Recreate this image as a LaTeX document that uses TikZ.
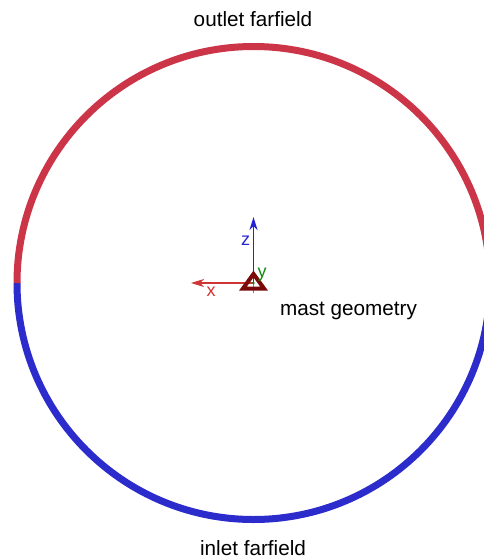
\documentclass[tikz,border=0pt]{standalone}
\usepackage{fontspec}
\setmainfont{Liberation Sans}
\usetikzlibrary{arrows.meta}
\definecolor{outletred}{HTML}{CC3448}
\definecolor{inletblue}{HTML}{2C2CCC}
\definecolor{mastred}{HTML}{7A0808}
\definecolor{axisx}{HTML}{D03434}
\definecolor{axisz}{HTML}{2424D4}
\definecolor{axisy}{HTML}{108A10}
\tikzset{
  farfield/.style={line width=7pt},
  axis/.style={line width=1.3pt,-{Stealth[length=13pt,width=8pt,inset=4pt]}},
  lbl/.style={font=\fontsize{20.7}{24}\selectfont,anchor=base},
  axlbl/.style={font=\fontsize{18}{20}\selectfont,anchor=base,inner sep=0pt}
}
\begin{document}
\begin{tikzpicture}[x=1pt,y=-1pt]
        \useasboundingbox (0,0) rectangle (483,559);
        \coordinate (o) at (253.5,283);
        % farfield boundary
        \draw[farfield,inletblue] (17,283) arc[start angle=180,end angle=0,radius=236.5];
        \draw[farfield,outletred] (17,283) arc[start angle=180,end angle=360,radius=236.5];
        \node[lbl] (outlet) at (253,27) {outlet farfield};
        \node[lbl] (inlet) at (253,555) {inlet farfield};
        % axes
        \coordinate (xend) at (191,283);
        \coordinate (zend) at (253.5,217);
        \coordinate (ybot) at (253.5,293);
        \draw[gray,line width=1pt] (o) -- (ybot);
        \draw[axis,axisz] (o) -- (zend);
        \draw[axis,axisx] (o) -- (xend);
        \draw[mastred,line width=4pt,line join=miter] (243,288.5) -- (264,288.5) -- (253.5,274) -- cycle;
        \fill[axisy] (o) circle (1.3);
        \node[axlbl,axisz] (zlbl) at (245.5,245) {z};
        \node[axlbl,axisx] (xlbl) at (211,296.5) {x};
        \node[axlbl,axisy] (ylbl) at (262,277.5) {y};
        \node[lbl] (mast) at (348.5,315) {mast geometry};
    \end{tikzpicture}
\end{document}
